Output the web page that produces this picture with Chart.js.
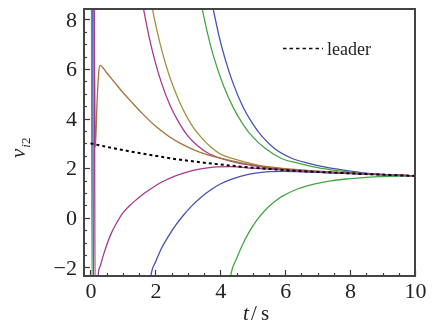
<!DOCTYPE html>
<html>
<head>
<meta charset="utf-8">
<script src="https://cdn.jsdelivr.net/npm/chart.js@4"></script>
<style>
  html, body { margin: 0; padding: 0; background: #fff; }
  #plot { display: block; }
</style>
</head>
<body>
<canvas id="plot" width="432" height="327"></canvas>
<script>
// tick labels
const xTicks = [0, 2, 4, 6, 8, 10];
const yTicks = [-2, 0, 2, 4, 6, 8];

// leader
const leaderT = [0, 0.5, 1, 1.5, 2, 2.5, 3, 3.5, 4, 4.5, 5, 5.5, 6, 6.5, 7, 7.5, 8, 8.5, 9, 9.5, 10];
const leaderV = [3.0, 2.86, 2.73, 2.61, 2.5, 2.39, 2.3, 2.22, 2.15, 2.08, 2.02, 1.97, 1.92, 1.88, 1.85, 1.82, 1.79, 1.76, 1.74, 1.71, 1.69];

// followers
const magLowT = [0.12, 0.14, 0.22, 0.24, 0.3, 0.4, 0.5, 0.65, 0.8, 1.0, 1.3, 1.6, 1.9, 2.2, 2.6, 3.0, 3.4, 3.8, 4.3, 5, 6, 7, 8, 9, 10];
const magLowV = [9.5, -3, -3, -2.3, -1.95, -1.5, -1.1, -0.6, -0.22, 0.2, 0.6, 0.93, 1.2, 1.44, 1.68, 1.85, 1.97, 2.04, 2.06, 2.0, 1.92, 1.85, 1.79, 1.74, 1.69];

const brownT = [0.1, 0.15, 0.2, 0.25, 0.29, 0.5, 0.75, 1.0, 1.3, 1.6, 2.0, 2.4, 2.8, 3.36, 4.0, 4.5, 5, 5.5, 6, 7, 8, 9, 10];
const brownV = [9.5, 2.85, 4.6, 5.8, 6.15, 5.85, 5.45, 5.05, 4.62, 4.2, 3.7, 3.3, 2.98, 2.65, 2.4, 2.25, 2.13, 2.05, 1.98, 1.88, 1.8, 1.74, 1.69];

const blueLowT = [0.07, 0.09, 1.8, 1.88, 2.0, 2.2, 2.4, 2.6, 2.85, 3.1, 3.4, 3.7, 4.0, 4.4, 4.9, 5.4, 6, 6.5, 7, 7.5, 8, 9, 10];
const blueLowV = [9.5, -3, -3, -2.2, -1.8, -1.2, -0.75, -0.35, 0.08, 0.45, 0.82, 1.12, 1.36, 1.58, 1.76, 1.85, 1.87, 1.85, 1.83, 1.8, 1.78, 1.73, 1.69];

const greenLowT = [0.03, 0.05, 4.25, 4.34, 4.5, 4.7, 4.87, 5.1, 5.38, 5.65, 5.9, 6.4, 6.92, 7.4, 7.94, 8.5, 8.96, 9.5, 10];
const greenLowV = [9.5, -3, -3, -2.2, -1.65, -1.05, -0.62, -0.15, 0.3, 0.62, 0.86, 1.17, 1.37, 1.49, 1.57, 1.63, 1.66, 1.675, 1.68];

const magUpT = [1.55, 1.8, 2.0, 2.2, 2.45, 2.7, 3.0, 3.3, 3.6, 4.0, 4.5, 5, 5.5, 6, 7, 8, 9, 10];
const magUpV = [9.0, 7.33, 6.26, 5.39, 4.54, 3.9, 3.3, 2.9, 2.62, 2.4, 2.22, 2.1, 2.0, 1.95, 1.86, 1.8, 1.74, 1.69];

const oliveT = [1.85, 2.0, 2.2, 2.4, 2.54, 2.8, 3.1, 3.4, 3.7, 4.0, 4.4, 4.9, 5.4, 6, 7, 8, 9, 10];
const oliveV = [8.8, 7.84, 6.74, 5.85, 5.32, 4.51, 3.78, 3.26, 2.86, 2.57, 2.38, 2.2, 2.05, 1.96, 1.87, 1.8, 1.74, 1.69];

const greenUpT = [3.38, 3.6, 3.8, 4.1, 4.4, 4.7, 5.0, 5.4, 5.9, 6.4, 7, 7.6, 8.2, 9, 10];
const greenUpV = [8.8, 7.48, 6.48, 5.32, 4.44, 3.77, 3.26, 2.78, 2.38, 2.2, 2.02, 1.9, 1.81, 1.74, 1.69];

const blueUpT = [3.72, 3.95, 4.15, 4.4, 4.7, 5.0, 5.3, 5.7, 6.2, 6.7, 7.2, 7.8, 8.5, 9.2, 10];
const blueUpV = [8.8, 7.39, 6.4, 5.4, 4.47, 3.79, 3.26, 2.76, 2.4, 2.2, 2.05, 1.92, 1.8, 1.73, 1.69];

const BLUE = '#4552b0';
const MAGENTA = '#a53a92';
const OLIVE = '#a39040';
const GREEN = '#45a545';
const BROWN = '#a8703a';

function pts(t, v) {
    return t.map((x, i) => ({ x: x, y: v[i] }));
}

function follower(t, v, color) {
    return {
        data: pts(t, v),
        borderColor: color,
        borderWidth: 1.3,
        pointRadius: 0,
        cubicInterpolationMode: 'monotone',
        clip: 0
    };
}

const serif = '"Liberation Serif", "Times New Roman", serif';

// frame, inner ticks, tick labels, axis titles and the legend
const decor = {
    id: 'decor',
    afterDraw(chart) {
        const ctx = chart.ctx;
        const a = chart.chartArea;
        const xs = chart.scales.x;
        const ys = chart.scales.y;
        ctx.save();

        ctx.strokeStyle = '#3a3a3a';
        ctx.lineWidth = 1.2;
        for (let v = -2; v <= 8.001; v += 0.5) {
            const py = Math.round(ys.getPixelForValue(v)) + 0.5;
            const len = (Math.abs(v % 2) < 0.01) ? 6 : 3;
            ctx.beginPath();
            ctx.moveTo(a.left, py);
            ctx.lineTo(a.left + len, py);
            ctx.stroke();
        }
        for (let v = 0; v <= 10.001; v += 0.5) {
            const px = Math.round(xs.getPixelForValue(v)) + 0.5;
            const len = (Math.abs(v % 2) < 0.01) ? 6 : 3;
            ctx.beginPath();
            ctx.moveTo(px, a.bottom);
            ctx.lineTo(px, a.bottom - len);
            ctx.stroke();
        }

        ctx.lineWidth = 2;
        ctx.strokeStyle = '#444';
        ctx.strokeRect(a.left, a.top, a.right - a.left, a.bottom - a.top);

        // tick labels
        ctx.fillStyle = '#222';
        ctx.font = '22px ' + serif;
        ctx.textBaseline = 'middle';
        ctx.textAlign = 'right';
        yTicks.forEach(v => {
            const label = v < 0 ? '\u2212' + Math.abs(v) : String(v);
            ctx.fillText(label, a.left - 7, ys.getPixelForValue(v) + 1.5);
        });
        ctx.textAlign = 'center';
        xTicks.forEach(v => {
            ctx.fillText(String(v), xs.getPixelForValue(v) + 0.5, 292);
        });
        ctx.textAlign = 'left';
        ctx.textBaseline = 'alphabetic';

        // y title: v_i2, rotated
        ctx.translate(25, 158);
        ctx.rotate(-Math.PI / 2);
        ctx.font = 'italic 21px ' + serif;
        ctx.fillText('v', 0, 0);
        const vw = ctx.measureText('v').width;
        ctx.font = 'italic 13px ' + serif;
        ctx.fillText('i', vw + 1, 5);
        const iw = ctx.measureText('i').width;
        ctx.font = '13px ' + serif;
        ctx.fillText('2', vw + 1 + iw, 5);
        ctx.setTransform(1, 0, 0, 1, 0, 0);

        // x title: t / s
        ctx.font = 'italic 21px ' + serif;
        ctx.fillText('t', 243, 320);
        ctx.font = '21px ' + serif;
        ctx.fillText('/', 251, 320);
        ctx.fillText('s', 261, 320);

        // legend
        ctx.strokeStyle = '#111';
        ctx.lineWidth = 1.6;
        ctx.setLineDash([3.5, 3]);
        ctx.beginPath();
        ctx.moveTo(283, 48.5);
        ctx.lineTo(323, 48.5);
        ctx.stroke();
        ctx.setLineDash([]);
        ctx.font = '18px ' + serif;
        ctx.fillText('leader', 327, 55);

        ctx.restore();
    }
};

new Chart(document.getElementById('plot'), {
    type: 'line',
    data: {
        datasets: [
            {
                label: 'leader',
                data: pts(leaderT, leaderV),
                borderColor: '#000',
                borderWidth: 2,
                borderDash: [3, 3],
                pointRadius: 0,
                cubicInterpolationMode: 'monotone',
                clip: 0
            },
            follower(magLowT, magLowV, MAGENTA),
            follower(brownT, brownV, BROWN),
            follower(blueLowT, blueLowV, BLUE),
            follower(greenLowT, greenLowV, GREEN),
            follower(magUpT, magUpV, MAGENTA),
            follower(oliveT, oliveV, OLIVE),
            follower(greenUpT, greenUpV, GREEN),
            follower(blueUpT, blueUpV, BLUE)
        ]
    },
    options: {
        responsive: false,
        animation: false,
        layout: { padding: { left: 84, right: 17, top: 9, bottom: 51 } },
        scales: {
            x: {
                type: 'linear',
                min: -0.2,
                max: 10,
                afterBuildTicks: s => { s.ticks = xTicks.map(v => ({ value: v })); },
                afterFit: s => { s.height = 0; },
                grid: { display: false },
                border: { display: false },
                ticks: { display: false }
            },
            y: {
                type: 'linear',
                min: -2.35,
                max: 8.42,
                afterBuildTicks: s => { s.ticks = yTicks.map(v => ({ value: v })); },
                afterFit: s => { s.width = 0; },
                grid: { display: false },
                border: { display: false },
                ticks: { display: false }
            }
        },
        plugins: { legend: { display: false }, tooltip: { enabled: false } }
    },
    plugins: [decor]
});
</script>
</body>
</html>
